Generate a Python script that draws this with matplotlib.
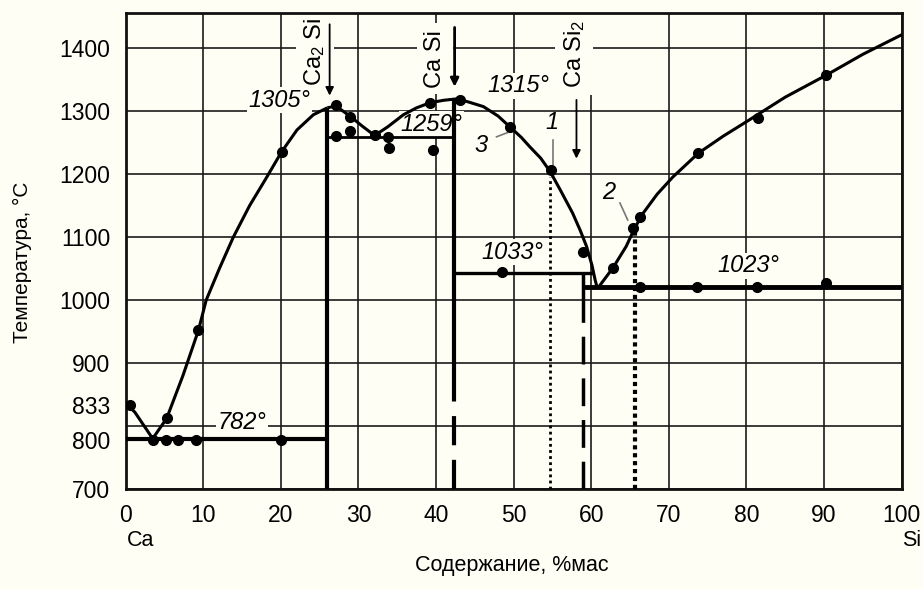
import numpy as np
import matplotlib.pyplot as plt
from matplotlib.transforms import ScaledTranslation

plt.rcParams['font.family'] = ['Liberation Sans', 'DejaVu Sans']
plt.rcParams['mathtext.fontset'] = 'custom'
plt.rcParams['mathtext.rm'] = 'Liberation Sans'
plt.rcParams['mathtext.it'] = 'Liberation Sans:italic'
plt.rcParams['mathtext.default'] = 'regular'

bg = '#fefef4'

# liquidus (wt% Si, deg C)
liq_left_x = [0, 1.2, 3.5, 5.3, 7.4, 9.4, 10.4, 12.1, 13.9, 16.0, 18.2, 20.1, 22.1, 24.2, 26.0]
liq_left_y = [836, 822, 780, 812, 880, 952, 1000, 1050, 1100, 1150, 1195, 1235, 1270, 1294, 1305]
liq_mid_x = [26.0, 27.1, 28.9, 30.5, 32.1, 33.8, 35.8, 37.5, 39.2, 41.0, 42.5, 44.0, 46.1, 48.0,
             49.5, 51.0, 52.1, 53.5, 54.7, 56.0, 57.6, 58.6, 59.4, 60.1, 60.5, 60.8]
liq_mid_y = [1305, 1308, 1292, 1276, 1261, 1275, 1294, 1305, 1313, 1317, 1319, 1315, 1307, 1292,
             1275, 1258, 1243, 1225, 1204, 1175, 1138, 1110, 1085, 1055, 1032, 1018]
liq_right_x = [60.8, 62.8, 64.5, 65.6, 66.7, 68.5, 70.5, 73.8, 77.0, 80.0, 85.0, 90.3, 95.0, 100.0]
liq_right_y = [1018, 1051, 1085, 1114, 1138, 1168, 1195, 1233, 1260, 1283, 1322, 1357, 1390, 1421]

# experimental points
pts_x = [0.6, 3.5, 5.2, 6.8, 9.1, 20.0, 5.4, 9.4, 20.1, 27.1, 28.9, 27.1, 28.9, 32.1, 33.8, 33.9,
         39.2, 39.6, 43.1, 49.5, 54.8, 58.9, 48.5, 62.8, 65.4, 66.3, 66.3, 73.6, 81.3, 90.2,
         73.8, 81.5, 90.3]
pts_y = [833, 777, 777, 777, 777, 777, 812, 952, 1235, 1310, 1291, 1260, 1268, 1262, 1259, 1241,
         1313, 1238, 1317, 1275, 1206, 1076, 1044, 1051, 1114, 1132, 1021, 1021, 1021, 1027,
         1233, 1289, 1357]

# compounds: x, top of solid part, bottom of solid part
ca2si_x, ca2si_top = 26.0, 1305
casi_x, casi_top, casi_solid_end = 42.3, 1318, 865
casi2_x, casi2_top, casi2_solid_end = 58.9, 1043, 1000

# eutectic / peritectic horizontals: y, x0, x1
eut_782 = (780, 0, 26.0)
eut_1259 = (1259, 26.0, 42.3)
per_1033 = (1043, 42.3, 60.3)
eut_1023 = (1021, 58.9, 100)

# dotted sections
dot1_x, dot1_top = 54.7, 1195
dot2_x, dot2_top = 65.6, 1114

xticks = list(range(0, 101, 10))
yticks = list(range(700, 1401, 100))

fig = plt.figure(figsize=(9.23, 5.89), dpi=100, facecolor=bg)
ax = fig.add_axes([125.5 / 923, 100 / 589, 776.2 / 923, 476.3 / 589])
ax.set_facecolor(bg)
ax.set_xlim(0, 100)
ax.set_ylim(700, 1456)

ax.set_xticks(xticks)
ax.set_yticks(yticks)
ax.set_yticks([833], labels=['833'], minor=True)
ax.tick_params(which='both', length=0, labelsize=16.5, pad=11)
ax.grid(which='major', color='#1a1a1a', lw=1.2)
ax.set_axisbelow(True)
for s in ax.spines.values():
    s.set_linewidth(2)
    s.set_color('#111111')

# the "800" label sits a bit below its line in the original
for lab in ax.get_yticklabels():
    if lab.get_text() == '800':
        lab.set_transform(lab.get_transform() + ScaledTranslation(0, -0.14, fig.dpi_scale_trans))

k = dict(color='black', solid_capstyle='butt', zorder=3)
ax.plot(liq_left_x, liq_left_y, lw=2.2, **k)
ax.plot(liq_mid_x, liq_mid_y, lw=2.2, **k)
ax.plot(liq_right_x, liq_right_y, lw=2.2, **k)

ax.plot([ca2si_x, ca2si_x], [700, ca2si_top], lw=3, **k)
ax.plot([casi_x, casi_x], [casi_solid_end, casi_top], lw=3, **k)
ax.plot([casi_x, casi_x], [700, casi_solid_end], lw=3, ls=(0, (7, 3.5)), color='black', zorder=3)
ax.plot([casi2_x, casi2_x], [casi2_solid_end, casi2_top], lw=2.5, **k)
ax.plot([casi2_x, casi2_x], [700, casi2_solid_end], lw=2.5, ls=(0, (8, 4)), color='black', zorder=3)

for (yy, x0, x1), w in zip([eut_782, eut_1259, per_1033, eut_1023], [3, 2, 2.4, 3.5]):
    ax.plot([x0, x1], [yy, yy], lw=w, **k)

ax.plot([dot1_x, dot1_x], [700, dot1_top], lw=2, ls=(0, (1, 1.2)), color='black', zorder=3)
ax.plot([dot2_x, dot2_x], [700, dot2_top], lw=3, ls=(0, (1, 0.9)), color='black', zorder=3)

ax.plot(pts_x, pts_y, 'o', color='black', ms=7, zorder=4)

# compound labels with arrows
lab_kw = dict(rotation=90, ha='center', va='center', fontsize=17, zorder=2.5,
              bbox=dict(facecolor=bg, edgecolor='none', pad=5))
ax.text(24.4, 1394, 'Ca$_2$ Si', **lab_kw)
ax.text(39.9, 1383, 'Ca Si', **lab_kw)
ax.text(57.8, 1390, 'Ca Si$_2$', **lab_kw)
arr = dict(arrowstyle='-|>', color='black', lw=1.3, mutation_scale=12)
ax.annotate('', xy=(26.3, 1320), xytext=(26.3, 1442), arrowprops=arr, zorder=3)
ax.annotate('', xy=(42.4, 1334), xytext=(42.4, 1437), arrowprops=dict(arr, lw=2), zorder=3)
ax.annotate('', xy=(58.1, 1220), xytext=(58.1, 1322), arrowprops=arr, zorder=3)

# temperature labels
t_kw = dict(ha='center', va='center', fontsize=17, style='italic', zorder=2.5,
            bbox=dict(facecolor=bg, edgecolor='none', pad=1))
ax.text(19.8, 1317, '1305°', **t_kw)
ax.text(39.4, 1279, '1259°', **t_kw)
ax.text(50.6, 1340, '1315°', **t_kw)
ax.text(15.0, 806, '782°', **t_kw)
ax.text(49.8, 1076, '1033°', **t_kw)
ax.text(80.2, 1054, '1023°', **t_kw)

# curve numbers with leader lines
n_kw = dict(ha='center', va='center', fontsize=17, style='italic', zorder=2.5)
ax.text(54.9, 1281, '1', **n_kw)
ax.text(62.3, 1170, '2', **n_kw)
ax.text(45.8, 1246, '3', **n_kw)
ax.plot([55.1, 55.1], [1254, 1210], color='#777777', lw=1.2, zorder=3)
ax.plot([63.7, 64.7], [1154, 1127], color='#777777', lw=1.2, zorder=3)
ax.plot([47.8, 49.5], [1259, 1267], color='#777777', lw=1.2, zorder=3)

fig.text(22 / 923, 1 - 262 / 589, 'Температура, °C', rotation=90, ha='center', va='center', fontsize=15)
fig.text(512 / 923, 1 - 566 / 589, 'Содержание, %мас', ha='center', va='center', fontsize=15.5)
fig.text(127 / 923, 1 - 541 / 589, 'Ca', ha='left', va='center', fontsize=15.5)
fig.text(921 / 923, 1 - 541 / 589, 'Si', ha='right', va='center', fontsize=15.5)

fig.savefig('out.png', dpi=100, facecolor=bg)
